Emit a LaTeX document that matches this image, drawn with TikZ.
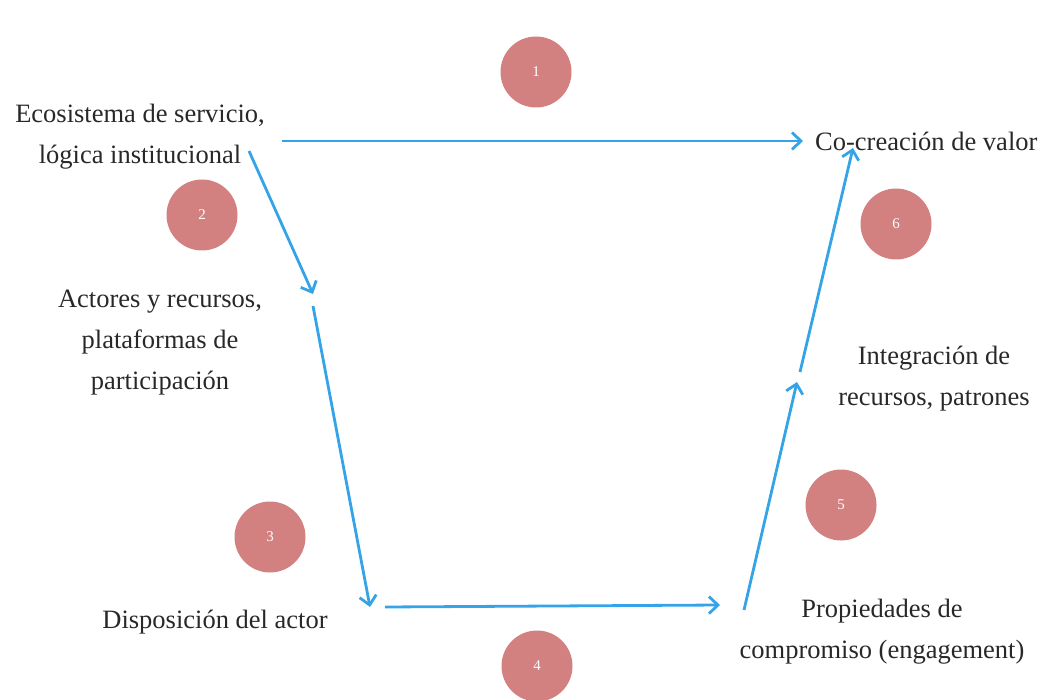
\documentclass[tikz,border=0pt]{standalone}
\usepackage{fontspec}
\setmainfont{Liberation Serif}
\usetikzlibrary{arrows.meta}
\definecolor{arrowblue}{RGB}{52,163,232}
\definecolor{circfill}{RGB}{210,128,128}
\definecolor{txt}{RGB}{40,40,40}
\tikzset{
  num/.style={circle,fill=circfill,minimum size=71pt,inner sep=0pt,text=white,font=\fontsize{15}{17}\selectfont},
  lbl/.style={align=center,text=txt,font=\fontsize{26.5}{41}\selectfont,inner sep=0pt},
  conn/.style={draw=arrowblue,line width=2.8pt,-{Straight Barb[length=9pt,width=17pt,line width=2.8pt]}}
}
\begin{document}
\begin{tikzpicture}[x=1pt,y=-1pt]
\useasboundingbox (0,0) rectangle (1054,700);
% circles
\node[num] (c1) at (536,72) {1};
\node[num] (c2) at (202,215) {2};
\node[num] (c6) at (896,224) {6};
\node[num] (c3) at (270,537) {3};
\node[num] (c5) at (841,505) {5};
\node[num] (c4) at (537,666) {4};
% labels
\node[lbl] (eco) at (140,137) {Ecosistema de servicio,\\lógica institucional};
\node[lbl,anchor=west] (cocre) at (815,141) {Co-creación de valor};
\node[lbl] (act) at (160,343) {Actores y recursos,\\plataformas de\\participación};
\node[lbl] (disp) at (215,622) {Disposición del actor};
\node[lbl] (prop) at (882,632) {Propiedades de\\compromiso (engagement)};
\node[lbl] (integ) at (934,379) {Integración de\\recursos, patrones};
% connector endpoints
\coordinate (p1s) at (282,141);
\coordinate (p1e) at (803,141);
\coordinate (p2s) at (249,151);
\coordinate (p2e) at (313,294);
\coordinate (p3s) at (313,306);
\coordinate (p3e) at (370,607);
\coordinate (p4s) at (385,607);
\coordinate (p4e) at (720,605);
\coordinate (p5s) at (744,610);
\coordinate (p5e) at (797,382);
\coordinate (p6s) at (800,372);
\coordinate (p6e) at (853,148);
% connectors
\draw[conn] (p1s) -- (p1e);
\draw[conn] (p2s) -- (p2e);
\draw[conn] (p3s) -- (p3e);
\draw[conn] (p4s) -- (p4e);
\draw[conn] (p5s) -- (p5e);
\draw[conn] (p6s) -- (p6e);
\end{tikzpicture}
\end{document}
